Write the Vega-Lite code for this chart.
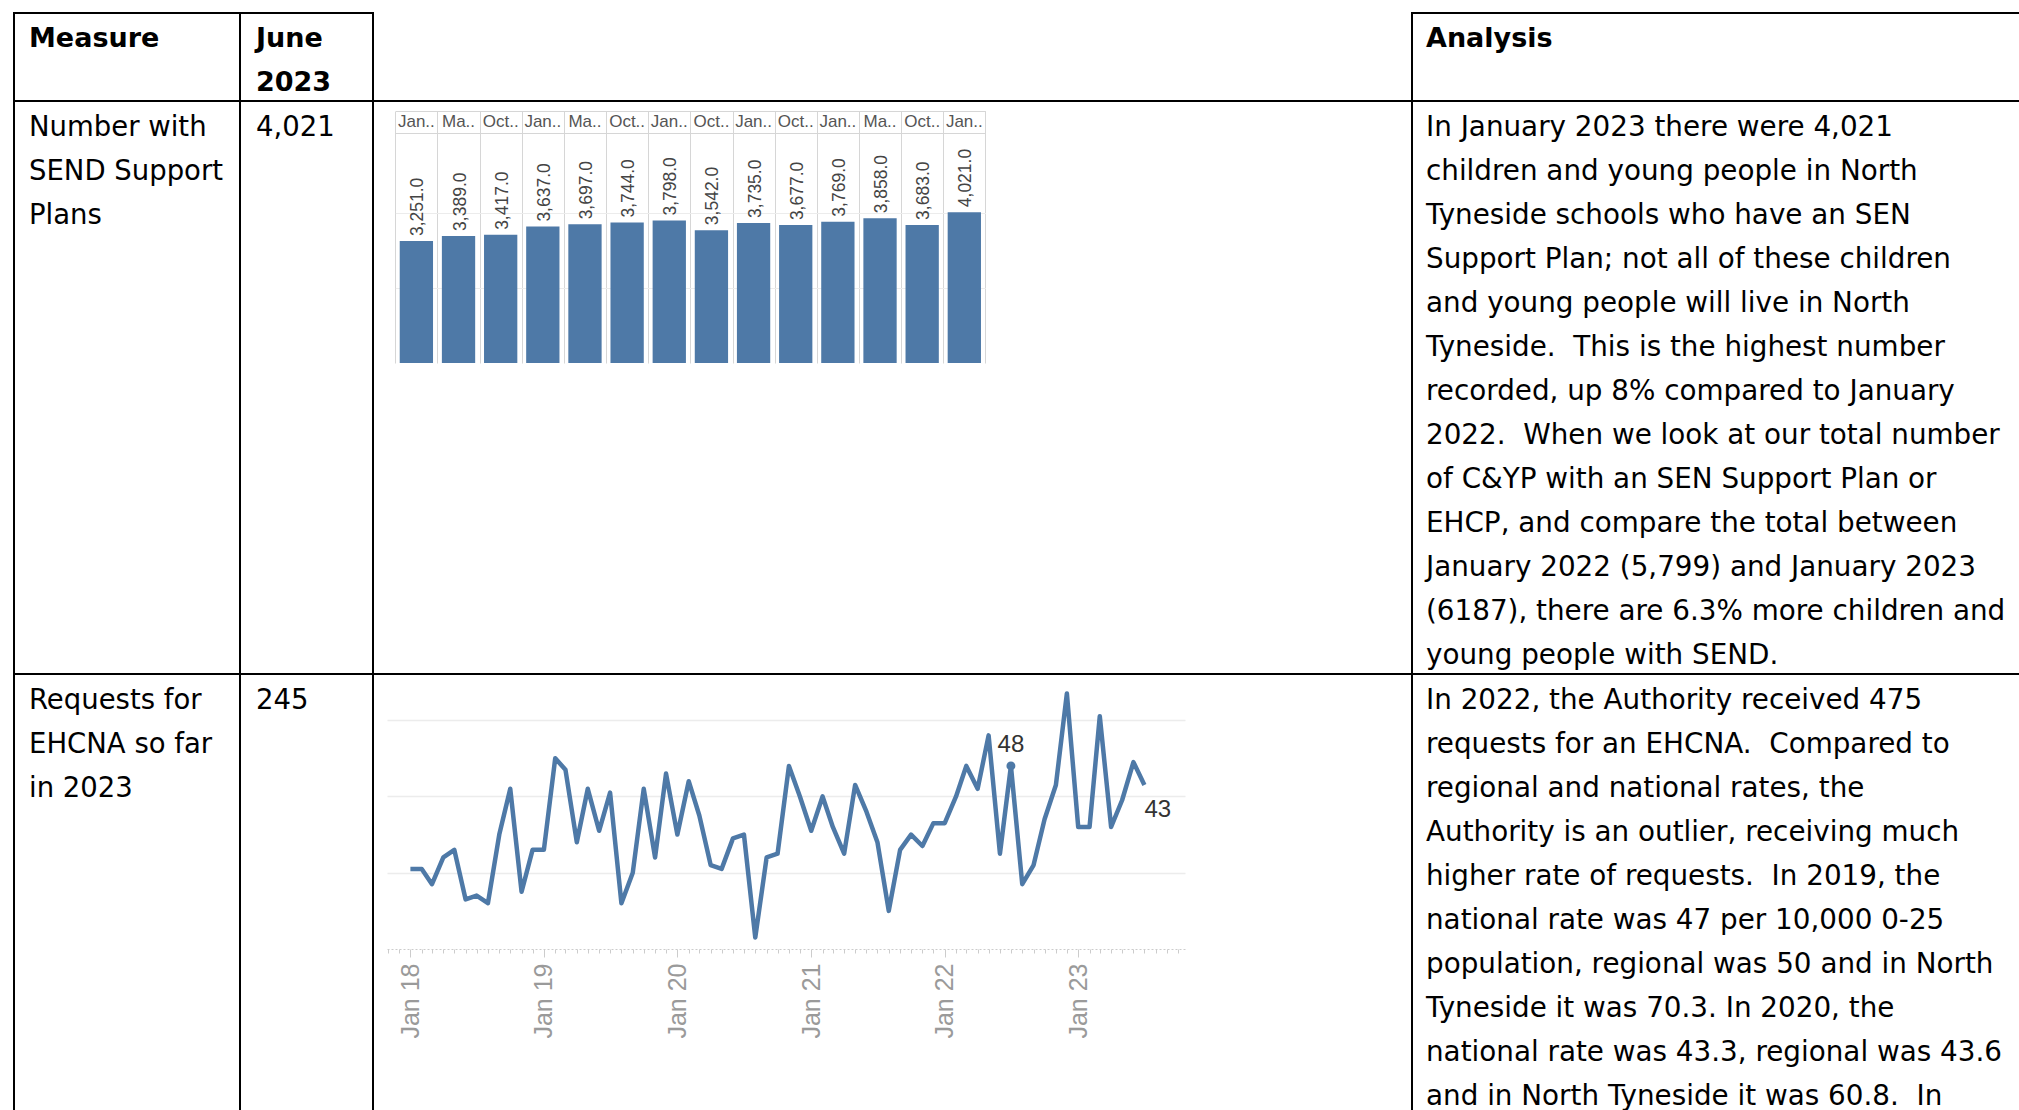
{
  "$schema": "https://vega.github.io/schema/vega-lite/v6.json",
  "background": "white",
  "padding": {"left": 13, "top": 12, "right": 0, "bottom": 0},
  "config": {
    "view": {"stroke": "#000000", "strokeWidth": 2},
    "concat": {"spacing": 0},
    "text": {"font": "DejaVu Sans"}
  },
  "columns": 4,
  "spacing": 0,
  "bounds": "flush",
  "concat": [
    {
      "width": 226, "height": 88,
      "data": {"values": [{"line": 0, "text": "Measure"}]},
      "mark": {"type": "text", "align": "left", "baseline": "alphabetic", "font": "DejaVu Sans", "fontSize": 27, "fontWeight": "bold", "color": "#000000"},
      "encoding": {
        "x": {"datum": 0, "type": "quantitative", "scale": {"domain": [0, 1], "range": [15, 16], "nice": false}, "axis": null},
        "y": {"field": "line", "type": "quantitative", "scale": {"domain": [0, 1], "range": [34, 77.5], "nice": false, "zero": false}, "axis": null},
        "text": {"field": "text"}
      }
    },
    {
      "width": 133, "height": 88,
      "data": {"values": [{"line": 0, "text": "June"}, {"line": 1, "text": "2023"}]},
      "mark": {"type": "text", "align": "left", "baseline": "alphabetic", "font": "DejaVu Sans", "fontSize": 27, "fontWeight": "bold", "color": "#000000"},
      "encoding": {
        "x": {"datum": 0, "type": "quantitative", "scale": {"domain": [0, 1], "range": [16, 17], "nice": false}, "axis": null},
        "y": {"field": "line", "type": "quantitative", "scale": {"domain": [0, 1], "range": [34, 77.5], "nice": false, "zero": false}, "axis": null},
        "text": {"field": "text"}
      }
    },
    {
      "width": 1039, "height": 88,
      "data": {"values": [{"text": ""}]},
      "mark": {"type": "text"},
      "encoding": {"text": {"field": "text"}}
    },
    {
      "width": 620, "height": 88,
      "data": {"values": [{"line": 0, "text": "Analysis"}]},
      "mark": {"type": "text", "align": "left", "baseline": "alphabetic", "font": "DejaVu Sans", "fontSize": 27, "fontWeight": "bold", "color": "#000000"},
      "encoding": {
        "x": {"datum": 0, "type": "quantitative", "scale": {"domain": [0, 1], "range": [14, 15], "nice": false}, "axis": null},
        "y": {"field": "line", "type": "quantitative", "scale": {"domain": [0, 1], "range": [34, 77.5], "nice": false, "zero": false}, "axis": null},
        "text": {"field": "text"}
      }
    },
    {
      "width": 226, "height": 573,
      "data": {"values": [{"line": 0, "text": "Number with"}, {"line": 1, "text": "SEND Support"}, {"line": 2, "text": "Plans"}]},
      "mark": {"type": "text", "align": "left", "baseline": "alphabetic", "font": "DejaVu Sans", "fontSize": 27.5, "color": "#000000"},
      "encoding": {
        "x": {"datum": 0, "type": "quantitative", "scale": {"domain": [0, 1], "range": [15, 16], "nice": false}, "axis": null},
        "y": {"field": "line", "type": "quantitative", "scale": {"domain": [0, 12], "range": [35, 563], "nice": false, "zero": false}, "axis": null},
        "text": {"field": "text"}
      }
    },
    {
      "width": 133, "height": 573,
      "data": {"values": [{"line": 0, "text": "4,021"}]},
      "mark": {"type": "text", "align": "left", "baseline": "alphabetic", "font": "DejaVu Sans", "fontSize": 27.5, "color": "#000000"},
      "encoding": {
        "x": {"datum": 0, "type": "quantitative", "scale": {"domain": [0, 1], "range": [16, 17], "nice": false}, "axis": null},
        "y": {"field": "line", "type": "quantitative", "scale": {"domain": [0, 12], "range": [35, 563], "nice": false, "zero": false}, "axis": null},
        "text": {"field": "text"}
      }
    },
    {
      "width": 1039, "height": 573,
      "data": {"values": [
        {"idx": 1, "label": "Jan..", "value": 3251},
        {"idx": 2, "label": "Ma..", "value": 3389},
        {"idx": 3, "label": "Oct..", "value": 3417},
        {"idx": 4, "label": "Jan..", "value": 3637},
        {"idx": 5, "label": "Ma..", "value": 3697},
        {"idx": 6, "label": "Oct..", "value": 3744},
        {"idx": 7, "label": "Jan..", "value": 3798},
        {"idx": 8, "label": "Oct..", "value": 3542},
        {"idx": 9, "label": "Jan..", "value": 3735},
        {"idx": 10, "label": "Oct..", "value": 3677},
        {"idx": 11, "label": "Jan..", "value": 3769},
        {"idx": 12, "label": "Ma..", "value": 3858},
        {"idx": 13, "label": "Oct..", "value": 3683},
        {"idx": 14, "label": "Jan..", "value": 4021}
      ]},
      "encoding": {
        "x": {
          "field": "idx", "type": "ordinal",
          "scale": {"range": [22.3, 612.4], "paddingInner": 0, "paddingOuter": 0},
          "axis": {"orient": "top", "title": null, "labels": false, "ticks": false, "domain": false, "grid": true, "tickBand": "extent", "gridColor": "#d6d6d6", "gridWidth": 1}
        }
      },
      "layer": [
        {
          "mark": {"type": "bar", "color": "#4e79a7", "width": {"band": 0.79}},
          "encoding": {
            "y": {
              "field": "value", "type": "quantitative",
              "scale": {"domain": [0, 6720], "range": [262, 10], "nice": false},
              "axis": {"orient": "left", "title": null, "labels": false, "ticks": false, "domain": false, "grid": true, "values": [2000, 4000, 6141, 6720],
                "gridColor": {"condition": {"test": "datum.value > 5000", "value": "#d6d6d6"}, "value": "#ececec"}, "gridWidth": 1}
            }
          }
        },
        {
          "mark": {"type": "text", "angle": 270, "align": "left", "baseline": "middle", "dx": 5, "dy": 2, "font": "Liberation Sans", "fontSize": 17.5, "color": "#444444"},
          "encoding": {
            "y": {"field": "value", "type": "quantitative"},
            "text": {"field": "value", "type": "quantitative", "format": ",.1f"}
          }
        },
        {
          "mark": {"type": "text", "align": "center", "baseline": "middle", "font": "Liberation Sans", "fontSize": 17, "color": "#555555"},
          "encoding": {
            "y": {"datum": 6430, "type": "quantitative"},
            "text": {"field": "label"}
          }
        }
      ]
    },
    {
      "width": 620, "height": 573,
      "data": {"values": [
        {"line": 0, "text": "In January 2023 there were 4,021"},
        {"line": 1, "text": "children and young people in North"},
        {"line": 2, "text": "Tyneside schools who have an SEN"},
        {"line": 3, "text": "Support Plan; not all of these children"},
        {"line": 4, "text": "and young people will live in North"},
        {"line": 5, "text": "Tyneside.\u00a0 This is the highest number"},
        {"line": 6, "text": "recorded, up 8% compared to January"},
        {"line": 7, "text": "2022.\u00a0 When we look at our total number"},
        {"line": 8, "text": "of C&YP with an SEN Support Plan or"},
        {"line": 9, "text": "EHCP, and compare the total between"},
        {"line": 10, "text": "January 2022 (5,799) and January 2023"},
        {"line": 11, "text": "(6187), there are 6.3% more children and"},
        {"line": 12, "text": "young people with SEND."}
      ]},
      "mark": {"type": "text", "align": "left", "baseline": "alphabetic", "font": "DejaVu Sans", "fontSize": 27.8, "color": "#000000"},
      "encoding": {
        "x": {"datum": 0, "type": "quantitative", "scale": {"domain": [0, 1], "range": [14, 15], "nice": false}, "axis": null},
        "y": {"field": "line", "type": "quantitative", "scale": {"domain": [0, 12], "range": [35, 563], "nice": false, "zero": false}, "axis": null},
        "text": {"field": "text"}
      }
    },
    {
      "width": 226, "height": 450,
      "data": {"values": [{"line": 0, "text": "Requests for"}, {"line": 1, "text": "EHCNA so far"}, {"line": 2, "text": "in 2023"}]},
      "mark": {"type": "text", "align": "left", "baseline": "alphabetic", "font": "DejaVu Sans", "fontSize": 27.5, "color": "#000000"},
      "encoding": {
        "x": {"datum": 0, "type": "quantitative", "scale": {"domain": [0, 1], "range": [15, 16], "nice": false}, "axis": null},
        "y": {"field": "line", "type": "quantitative", "scale": {"domain": [0, 12], "range": [35, 563], "nice": false, "zero": false}, "axis": null},
        "text": {"field": "text"}
      }
    },
    {
      "width": 133, "height": 450,
      "data": {"values": [{"line": 0, "text": "245"}]},
      "mark": {"type": "text", "align": "left", "baseline": "alphabetic", "font": "DejaVu Sans", "fontSize": 27.5, "color": "#000000"},
      "encoding": {
        "x": {"datum": 0, "type": "quantitative", "scale": {"domain": [0, 1], "range": [16, 17], "nice": false}, "axis": null},
        "y": {"field": "line", "type": "quantitative", "scale": {"domain": [0, 12], "range": [35, 563], "nice": false, "zero": false}, "axis": null},
        "text": {"field": "text"}
      }
    },
    {
      "width": 1039, "height": 450,
      "data": {"values": [
        {"month": "2018-01-01", "requests": 21}, {"month": "2018-02-01", "requests": 21}, {"month": "2018-03-01", "requests": 17}, {"month": "2018-04-01", "requests": 24},
        {"month": "2018-05-01", "requests": 26}, {"month": "2018-06-01", "requests": 13}, {"month": "2018-07-01", "requests": 14}, {"month": "2018-08-01", "requests": 12},
        {"month": "2018-09-01", "requests": 30}, {"month": "2018-10-01", "requests": 42}, {"month": "2018-11-01", "requests": 15}, {"month": "2018-12-01", "requests": 26},
        {"month": "2019-01-01", "requests": 26}, {"month": "2019-02-01", "requests": 50}, {"month": "2019-03-01", "requests": 47}, {"month": "2019-04-01", "requests": 28},
        {"month": "2019-05-01", "requests": 42}, {"month": "2019-06-01", "requests": 31}, {"month": "2019-07-01", "requests": 41}, {"month": "2019-08-01", "requests": 12},
        {"month": "2019-09-01", "requests": 20}, {"month": "2019-10-01", "requests": 42}, {"month": "2019-11-01", "requests": 24}, {"month": "2019-12-01", "requests": 46},
        {"month": "2020-01-01", "requests": 30}, {"month": "2020-02-01", "requests": 44}, {"month": "2020-03-01", "requests": 35}, {"month": "2020-04-01", "requests": 22},
        {"month": "2020-05-01", "requests": 21}, {"month": "2020-06-01", "requests": 29}, {"month": "2020-07-01", "requests": 30}, {"month": "2020-08-01", "requests": 3},
        {"month": "2020-09-01", "requests": 24}, {"month": "2020-10-01", "requests": 25}, {"month": "2020-11-01", "requests": 48}, {"month": "2020-12-01", "requests": 40},
        {"month": "2021-01-01", "requests": 31}, {"month": "2021-02-01", "requests": 40}, {"month": "2021-03-01", "requests": 32}, {"month": "2021-04-01", "requests": 25},
        {"month": "2021-05-01", "requests": 43}, {"month": "2021-06-01", "requests": 36}, {"month": "2021-07-01", "requests": 28}, {"month": "2021-08-01", "requests": 10},
        {"month": "2021-09-01", "requests": 26}, {"month": "2021-10-01", "requests": 30}, {"month": "2021-11-01", "requests": 27}, {"month": "2021-12-01", "requests": 33},
        {"month": "2022-01-01", "requests": 33}, {"month": "2022-02-01", "requests": 40}, {"month": "2022-03-01", "requests": 48}, {"month": "2022-04-01", "requests": 42},
        {"month": "2022-05-01", "requests": 56}, {"month": "2022-06-01", "requests": 25}, {"month": "2022-07-01", "requests": 48}, {"month": "2022-08-01", "requests": 17},
        {"month": "2022-09-01", "requests": 22}, {"month": "2022-10-01", "requests": 34}, {"month": "2022-11-01", "requests": 43}, {"month": "2022-12-01", "requests": 67},
        {"month": "2023-01-01", "requests": 32}, {"month": "2023-02-01", "requests": 32}, {"month": "2023-03-01", "requests": 61}, {"month": "2023-04-01", "requests": 32},
        {"month": "2023-05-01", "requests": 39}, {"month": "2023-06-01", "requests": 49}, {"month": "2023-07-01", "requests": 43}
      ]},
      "encoding": {
        "x": {
          "field": "month", "type": "temporal",
          "scale": {"type": "utc", "domain": [{"year": 2017, "month": 10, "date": 29, "utc": true}, {"year": 2023, "month": 10, "date": 20, "utc": true}], "range": [14, 812], "nice": false},
          "axis": {
            "orient": "bottom", "offset": -175, "title": null, "grid": false,
            "domainColor": "#cccccc", "domainDash": [2, 2], "domainWidth": 1,
            "tickColor": "#cccccc", "tickWidth": 1,
            "tickSize": {"condition": {"test": "utcmonth(datum.value) == 0", "value": 8}, "value": 4},
            "tickCount": {"interval": "month", "step": 1},
            "labelExpr": "utcmonth(datum.value) == 0 ? utcFormat(datum.value, '%b %y') : ''",
            "labelAngle": 270, "labelFont": "Liberation Sans", "labelFontSize": 25, "labelColor": "#9a9a9a",
            "labelPadding": 6, "labelOverlap": false, "labelFlush": false, "labelBound": false
          }
        },
        "y": {
          "field": "requests", "type": "quantitative",
          "scale": {"domain": [0, 70], "range": [275, 8], "nice": false},
          "axis": {"orient": "left", "title": null, "labels": false, "ticks": false, "domain": false, "grid": true, "values": [20, 40, 60], "gridColor": "#ececec", "gridWidth": 1.5}
        }
      },
      "layer": [
        {"mark": {"type": "line", "color": "#4e79a7", "strokeWidth": 4.5, "strokeJoin": "round"}},
        {
          "transform": [{"filter": "utcyear(datum.month) == 2022 && utcmonth(datum.month) == 6"}],
          "mark": {"type": "circle", "color": "#4e79a7", "size": 80, "opacity": 1}
        },
        {
          "transform": [{"filter": "utcyear(datum.month) == 2022 && utcmonth(datum.month) == 6"}],
          "mark": {"type": "text", "align": "center", "baseline": "alphabetic", "dy": -14, "font": "Liberation Sans", "fontSize": 24, "color": "#333333"},
          "encoding": {"text": {"field": "requests", "type": "quantitative"}}
        },
        {
          "transform": [{"filter": "utcyear(datum.month) == 2023 && utcmonth(datum.month) == 6"}],
          "mark": {"type": "text", "align": "left", "baseline": "middle", "dy": 25, "font": "Liberation Sans", "fontSize": 24, "color": "#333333"},
          "encoding": {"text": {"field": "requests", "type": "quantitative"}}
        }
      ]
    },
    {
      "width": 620, "height": 450,
      "data": {"values": [
        {"line": 0, "text": "In 2022, the Authority received 475"},
        {"line": 1, "text": "requests for an EHCNA.\u00a0 Compared to"},
        {"line": 2, "text": "regional and national rates, the"},
        {"line": 3, "text": "Authority is an outlier, receiving much"},
        {"line": 4, "text": "higher rate of requests.\u00a0 In 2019, the"},
        {"line": 5, "text": "national rate was 47 per 10,000 0-25"},
        {"line": 6, "text": "population, regional was 50 and in North"},
        {"line": 7, "text": "Tyneside it was 70.3. In 2020, the"},
        {"line": 8, "text": "national rate was 43.3, regional was 43.6"},
        {"line": 9, "text": "and in North Tyneside it was 60.8.\u00a0 In"}
      ]},
      "mark": {"type": "text", "align": "left", "baseline": "alphabetic", "font": "DejaVu Sans", "fontSize": 27.8, "color": "#000000"},
      "encoding": {
        "x": {"datum": 0, "type": "quantitative", "scale": {"domain": [0, 1], "range": [14, 15], "nice": false}, "axis": null},
        "y": {"field": "line", "type": "quantitative", "scale": {"domain": [0, 12], "range": [35, 563], "nice": false, "zero": false}, "axis": null},
        "text": {"field": "text"}
      }
    }
  ]
}
